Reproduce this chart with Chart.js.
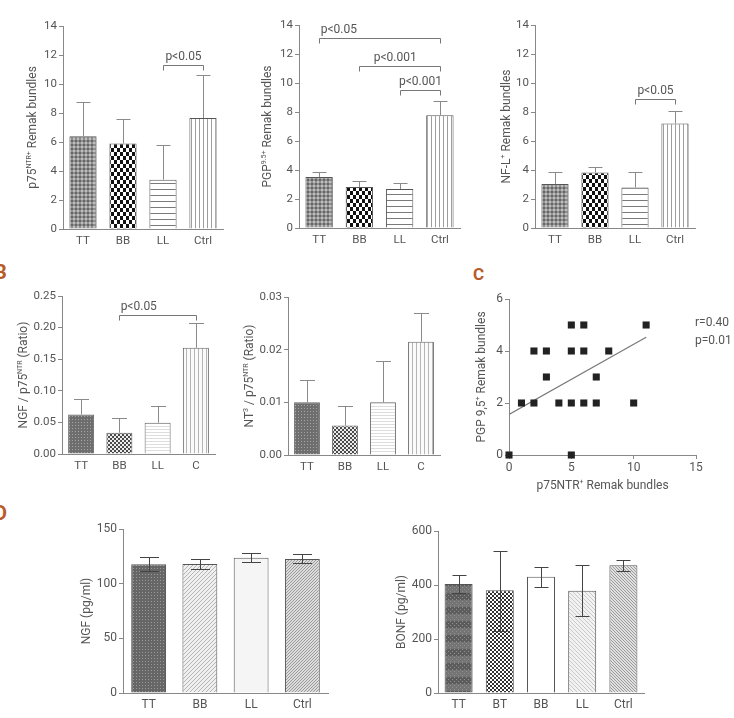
<!DOCTYPE html>
<html><head><meta charset="utf-8">
<script src="https://cdn.jsdelivr.net/npm/chart.js@4.4.0/dist/chart.umd.min.js"></script>
<style>
html,body{margin:0;padding:0;background:#fff;width:734px;height:718px;overflow:hidden;position:relative;font-family:Roboto,sans-serif}
canvas{position:absolute}
.lt{position:absolute;font-weight:bold;font-family:Roboto,sans-serif;color:#b95b28;line-height:1}
</style></head><body>
<div class="lt" style="left:-6px;top:262px;font-size:20px">B</div>
<div class="lt" style="left:473px;top:266px;font-size:17px">C</div>
<div class="lt" style="left:-6px;top:503px;font-size:20px">D</div>
<script>
// ---------- DATA ----------
const A_cats = ['TT','BB','LL','Ctrl'];
const A1_mean = [6.4, 5.9, 3.4, 7.65];
const A1_hi   = [8.75, 7.6, 5.77, 10.62];
const A2_mean = [3.52, 2.83, 2.69, 7.77];
const A2_hi   = [3.87, 3.26, 3.13, 8.77];
const A3_mean = [3.03, 3.83, 2.8, 7.21];
const A3_hi   = [3.87, 4.18, 3.87, 8.06];
const A_ticks = [0, 14, 2];

const B_cats = ['TT','BB','LL','C'];
const B1_mean = [0.0626, 0.0337, 0.0495, 0.168];
const B1_hi   = [0.0863, 0.0563, 0.0758, 0.2074];
const B2_mean = [0.0100, 0.0056, 0.0100, 0.0215];
const B2_hi   = [0.0143, 0.0093, 0.0179, 0.0270];

const C_x = [0, 5, 1, 2, 4, 5, 6, 7, 10, 3, 7, 2, 3, 5, 6, 8, 5, 6, 11];
const C_y = [0, 0, 2, 2, 2, 2, 2, 2, 2, 3, 3, 4, 4, 4, 4, 4, 5, 5, 5];
const C_fitX = [0, 11];
const C_fitY = [1.56, 4.53];

const D1_cats = ['TT','BB','LL','Ctrl'];
const D1_mean = [117.7, 118, 123.8, 122.6];
const D1_lo   = [111.3, 113, 119.8, 118.6];
const D1_hi   = [124.4, 122.9, 128, 126.9];
const D2_cats = ['TT','BT','BB','LL','Ctrl'];
const D2_mean = [404, 381, 431, 379, 473];
const D2_lo   = [371, 231, 391, 285, 453];
const D2_hi   = [437, 527, 468, 474, 493];

// ---------- HELPERS ----------
const FONT = 'Roboto, "DejaVu Sans", sans-serif';
const TXT = '#555', AX = '#888';

function pat(w, h, draw) {
  const c = document.createElement('canvas'); c.width = w; c.height = h;
  const g = c.getContext('2d'); draw(g, w, h);
  return g.createPattern(c, 'repeat');
}
function solid(col){ return (g,w,h)=>{g.fillStyle=col;g.fillRect(0,0,w,h);}; }
function checker(bg, fg, cw, ch){ return pat(cw*2, ch*2, (g)=>{g.fillStyle=bg;g.fillRect(0,0,cw*2,ch*2);g.fillStyle=fg;g.fillRect(0,0,cw,ch);g.fillRect(cw,ch,cw,ch);}); }
function hlines(bg, fg, s){ return pat(1, s, (g)=>{g.fillStyle=bg;g.fillRect(0,0,1,s);g.fillStyle=fg;g.fillRect(0,s-1,1,1);}); }
function vlines(bg, fg, s){ return pat(s, 1, (g)=>{g.fillStyle=bg;g.fillRect(0,0,s,1);g.fillStyle=fg;g.fillRect(0,0,1,1);}); }
function diag(bg, fg, s, back){ return pat(s, s, (g)=>{g.fillStyle=bg;g.fillRect(0,0,s,s);g.fillStyle=fg;for(let i=0;i<s;i++){g.fillRect(i, back? i : s-1-i, 1, 1);}}); }
function weave(bg, dk, lt){ return pat(4,4,(g)=>{g.fillStyle=bg;g.fillRect(0,0,4,4);g.fillStyle=dk;g.fillRect(0,0,2,2);g.fillStyle=lt;g.fillRect(2,2,2,2);}); }
function dots(bg, fg){ return pat(3,3,(g)=>{g.fillStyle=bg;g.fillRect(0,0,3,3);g.fillStyle=fg;g.fillRect(1,1,1,1);}); }
function bands(){ return pat(4,14,(g)=>{g.fillStyle='#5c5c5c';g.fillRect(0,0,4,7);g.fillStyle='#747474';g.fillRect(0,7,4,7);g.fillStyle='#8e8e8e';g.fillRect(0,0,1,1);g.fillRect(2,2,1,1);g.fillRect(0,4,1,1);g.fillRect(2,6,1,1);g.fillRect(0,8,1,1);g.fillRect(2,10,1,1);g.fillRect(0,12,1,1);}); }

function drawRich(ctx, segs, cx, cy, rotate, size, color) {
  ctx.save();
  ctx.translate(cx, cy);
  if (rotate) ctx.rotate(-Math.PI/2);
  const big = size + 'px ' + FONT, small = Math.round(size*0.62) + 'px ' + FONT;
  let total = 0;
  segs.forEach(([t, sup]) => { ctx.font = sup ? small : big; total += ctx.measureText(t).width; });
  let x = -total/2;
  ctx.fillStyle = color; ctx.textBaseline = 'middle'; ctx.textAlign = 'left';
  segs.forEach(([t, sup]) => { ctx.font = sup ? small : big; ctx.fillText(t, x, sup ? -size*0.33 : 0); x += ctx.measureText(t).width; });
  ctx.restore();
}

function makeCanvas(L, T, R, B, padL, padT, padR, padB) {
  const cv = document.createElement('canvas');
  const W = R - L + padL + padR, H = B - T + padT + padB;
  cv.width = W; cv.height = H;
  cv.style.left = (L - padL) + 'px'; cv.style.top = (T - padT) + 'px';
  cv.style.width = W + 'px'; cv.style.height = H + 'px';
  document.body.appendChild(cv);
  return cv;
}

function barPanel(o) {
  const padL = 60, padT = o.padT || 22, padR = o.padR || 8, padB = 25;
  const cv = makeCanvas(o.L, o.T, o.R, o.B, padL, padT, padR, padB);
  const fs = o.fs || 11.5;
  const plug = {
    id: 'extras',
    afterDatasetsDraw(chart) {
      const ctx = chart.ctx, y = chart.scales.y, meta = chart.getDatasetMeta(0);
      ctx.save();
      ctx.strokeStyle = o.errColor || '#8a8a8a'; ctx.lineWidth = 1;
      meta.data.forEach((bar, i) => {
        const cx = Math.round(bar.x) + 0.5;
        const yh = Math.round(y.getPixelForValue(o.hi[i])) + 0.5;
        const yl = o.lo ? Math.round(y.getPixelForValue(o.lo[i])) + 0.5 : bar.y;
        const cw = o.capW || 14;
        ctx.beginPath();
        ctx.moveTo(cx, yl); ctx.lineTo(cx, yh);
        ctx.moveTo(cx - cw/2, yh); ctx.lineTo(cx + cw/2, yh);
        if (o.lo) { ctx.moveTo(cx - cw/2, yl); ctx.lineTo(cx + cw/2, yl); }
        ctx.stroke();
      });
      (o.brackets || []).forEach(b => {
        const x1 = Math.round(meta.data[b.from].x) + 0.5, x2 = Math.round(meta.data[b.to].x) + 0.5;
        const yy = Math.round(y.getPixelForValue(b.y)) + 0.5;
        ctx.strokeStyle = '#777';
        ctx.beginPath();
        ctx.moveTo(x1, yy + 5); ctx.lineTo(x1, yy); ctx.lineTo(x2, yy); ctx.lineTo(x2, yy + 5);
        ctx.stroke();
        ctx.fillStyle = TXT; ctx.font = '12px ' + FONT; ctx.textAlign = 'center'; ctx.textBaseline = 'middle';
        const f = b.lx === undefined ? 0.5 : b.lx;
        ctx.fillText(b.label, x1 + (x2 - x1) * f, yy - 9);
      });
      ctx.restore();
    },
    afterDraw(chart) {
      const a = chart.chartArea;
      drawRich(chart.ctx, o.title, a.left - o.titleDx, (a.top + a.bottom) / 2, true, 12, TXT);
    }
  };
  new Chart(cv, {
    type: 'bar',
    data: { labels: o.cats, datasets: [{ data: o.mean, backgroundColor: o.colors, borderColor: o.border || '#555', borderWidth: 1, barPercentage: o.bp || 0.68, categoryPercentage: 1 }] },
    options: {
      responsive: false, animation: false, events: [],
      layout: { padding: { top: padT, right: padR, left: 0, bottom: 0 } },
      plugins: { legend: { display: false }, tooltip: { enabled: false } },
      scales: {
        x: { type: 'category', offset: true, grid: { display: false, drawTicks: false }, border: { display: true, color: AX },
             ticks: { font: { family: FONT, size: fs }, color: TXT, padding: 5, maxRotation: 0, autoSkip: false },
             afterFit: s => { s.height = padB; } },
        y: { min: o.ticks[0], max: o.ticks[1], grid: { display: true, drawOnChartArea: false, drawTicks: true, tickLength: 4, color: AX }, border: { display: true, color: AX },
             ticks: { stepSize: o.ticks[2], font: { family: FONT, size: fs }, color: TXT, padding: 2, callback: o.fmt ? (v) => o.fmt(v) : undefined },
             afterFit: s => { s.width = padL; } }
      }
    },
    plugins: [plug]
  });
}

// ---------- PATTERNS ----------
const pA = [weave('#919191', '#666666', '#bdbdbd'), checker('#ffffff', '#111111', 3, 4), hlines('#ffffff', '#7a7a7a', 6), vlines('#ffffff', '#9e9e9e', 4)];
const pB = [dots('#6e6e6e', '#a4a4a4'), checker('#ececec', '#4a4a4a', 2, 2), hlines('#ffffff', '#dddddd', 3), vlines('#fafafa', '#b5b5b5', 4)];
const pD1 = [dots('#666666', '#9a9a9a'), diag('#f0f0f0', '#b4b4b4', 4, false), pat(1,1,solid('#f5f5f5')), diag('#dcdcdc', '#9a9a9a', 3, false)];
const pD2 = [bands(), checker('#ffffff', '#333333', 2, 2), pat(1,1,solid('#ffffff')), diag('#f2f2f2', '#c8c8c8', 4, true), diag('#e0e0e0', '#9a9a9a', 3, true)];

// ---------- PANELS ----------
barPanel({ L: 63, T: 26, R: 223, B: 229, cats: A_cats, mean: A1_mean, hi: A1_hi, colors: pA, ticks: A_ticks,
  title: [['p75', 0], ['NTR+', 1], [' Remak bundles', 0]], titleDx: 30,
  brackets: [{ from: 2, to: 3, y: 11.3, label: 'p<0.05' }] });

barPanel({ L: 299, T: 25, R: 460, B: 228, cats: A_cats, mean: A2_mean, hi: A2_hi, colors: pA, ticks: A_ticks,
  title: [['PGP', 0], ['9.5+', 1], [' Remak bundles', 0]], titleDx: 31,
  brackets: [{ from: 0, to: 3, y: 13.1, label: 'p<0.05', lx: 0.16 }, { from: 1, to: 3, y: 11.2, label: 'p<0.001', lx: 0.44 }, { from: 2, to: 3, y: 9.55, label: 'p<0.001' }] });

barPanel({ L: 535, T: 25, R: 695, B: 228, cats: A_cats, mean: A3_mean, hi: A3_hi, colors: pA, ticks: A_ticks,
  title: [['NF-L', 0], ['+', 1], [' Remak bundles', 0]], titleDx: 28,
  brackets: [{ from: 2, to: 3, y: 8.88, label: 'p<0.05' }] });

barPanel({ L: 62, T: 296, R: 215, B: 454, cats: B_cats, mean: B1_mean, hi: B1_hi, colors: pB, border: '#666', ticks: [0, 0.25, 0.05], fmt: v => v.toFixed(2), capW: 15,
  title: [['NGF / p75', 0], ['NTR', 1], [' (Ratio)', 0]], titleDx: 38,
  brackets: [{ from: 1, to: 3, y: 0.2205, label: 'p<0.05', lx: 0.25 }] });

barPanel({ L: 288, T: 297, R: 440, B: 455, cats: B_cats, mean: B2_mean, hi: B2_hi, colors: pB, border: '#666', ticks: [0, 0.03, 0.01], fmt: v => v.toFixed(2), capW: 15,
  title: [['NT', 0], ['3', 1], [' / p75', 0], ['NTR', 1], [' (Ratio)', 0]], titleDx: 38 });

barPanel({ L: 123, T: 529, R: 328, B: 693, cats: D1_cats, mean: D1_mean, lo: D1_lo, hi: D1_hi, colors: pD1, ticks: [0, 150, 50], fs: 12, capW: 19, errColor: '#444',
  title: [['NGF (pg/ml)', 0]], titleDx: 36 });

barPanel({ L: 438, T: 531, R: 644, B: 693, cats: D2_cats, mean: D2_mean, lo: D2_lo, hi: D2_hi, colors: pD2, ticks: [0, 600, 200], fs: 12, capW: 14, errColor: '#444',
  title: [['BONF (pg/ml)', 0]], titleDx: 36 });

// Scatter C
(function () {
  const L = 509, T = 299, R = 696, B = 455, padL = 60, padT = 22, padR = 38, padB = 40;
  const cv = makeCanvas(L, T, R, B, padL, padT, padR, padB);
  const pts = C_x.map((x, i) => ({ x: x, y: C_y[i] }));
  const fit = C_fitX.map((x, i) => ({ x: x, y: C_fitY[i] }));
  const plug = {
    id: 'cextras',
    afterDraw(chart) {
      const a = chart.chartArea, ctx = chart.ctx;
      drawRich(ctx, [['PGP 9,5', 0], ['+', 1], [' Remak bundles', 0]], a.left - 27, (a.top + a.bottom) / 2, true, 12, TXT);
      drawRich(ctx, [['p75NTR', 0], ['+', 1], [' Remak bundles', 0]], (a.left + a.right) / 2, a.bottom + 31, false, 12, TXT);
      ctx.save();
      ctx.fillStyle = TXT; ctx.font = '12px ' + FONT; ctx.textAlign = 'left'; ctx.textBaseline = 'middle';
      ctx.fillText('r=0.40', a.right - 1, a.top + 24);
      ctx.fillText('p=0.01', a.right - 1, a.top + 42);
      ctx.restore();
    }
  };
  new Chart(cv, {
    type: 'scatter',
    data: { datasets: [
      { type: 'line', data: fit, borderColor: '#777', borderWidth: 1.2, pointRadius: 0, fill: false, order: 2 },
      { data: pts, pointStyle: 'rect', pointRadius: 5, backgroundColor: '#222', borderColor: '#222', borderWidth: 0, clip: false, order: 1 }
    ] },
    options: {
      responsive: false, animation: false, events: [],
      layout: { padding: { top: padT, right: padR, left: 0, bottom: 0 } },
      plugins: { legend: { display: false }, tooltip: { enabled: false } },
      scales: {
        x: { type: 'linear', min: 0, max: 15, grid: { display: true, drawOnChartArea: false, drawTicks: true, tickLength: 4, color: AX }, border: { display: true, color: AX },
             ticks: { stepSize: 5, font: { family: FONT, size: 12 }, color: TXT, padding: 2 },
             afterFit: s => { s.height = padB; } },
        y: { type: 'linear', min: 0, max: 6, grid: { display: true, drawOnChartArea: false, drawTicks: true, tickLength: 4, color: AX }, border: { display: true, color: AX },
             ticks: { stepSize: 2, font: { family: FONT, size: 12 }, color: TXT, padding: 2 },
             afterFit: s => { s.width = padL; } }
      }
    },
    plugins: [plug]
  });
})();
</script>
</body></html>
